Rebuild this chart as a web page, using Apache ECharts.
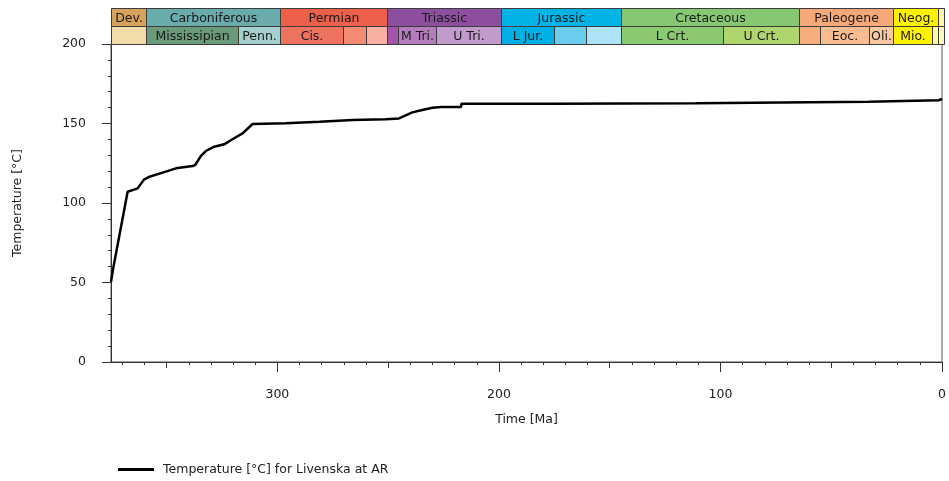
<!DOCTYPE html>
<html>
<head>
<meta charset="utf-8">
<script src="https://cdn.jsdelivr.net/npm/echarts@6/dist/echarts.min.js"></script>
<style>
  html, body { margin: 0; padding: 0; background: #fff; }
  #chart { width: 949px; height: 481px; }
</style>
</head>
<body>
<div id="chart"></div>
<script>
// burial temperature history
const ageMa = [375.1, 374.1, 367.6, 363.1, 360.1, 357.8, 351.8, 345.8, 338.3, 337.1, 334.5, 332.3,
  328.5, 324.0, 320.3, 315.7, 311.2, 296.2, 295.6, 281.1, 280.2, 266.1, 251.1, 245.1, 239.1,
  234.6, 230.0, 226.1, 217.1, 216.9, 175.1, 174.9, 111.1, 110.9, 33.1, 32.8, 1.5, 0];
const tempC = [50.5, 58.9, 107.1, 109.2, 114.9, 116.5, 119.1, 121.8, 123.3, 123.9, 129.6, 132.7,
  135.4, 136.9, 140.1, 143.8, 149.7, 150.1, 150.6, 151.1, 151.7, 152.2, 152.6, 153.2, 157.0,
  158.5, 159.9, 160.4, 160.4, 162.4, 162.4, 162.8, 162.8, 163.7, 163.7, 164.6, 164.6, 165.4];

const seriesName = 'Temperature [°C] for Livenska at AR';
const xMax = 375.1;

// geologic time scale (ages in Ma)
const periodNames = ['Dev.', 'Carboniferous', 'Permian', 'Triassic', 'Jurassic', 'Cretaceous', 'Paleogene', 'Neog.', ''];
const periodBounds = [375.1, 359.2, 299, 251, 199.6, 145.5, 65.5, 23.03, 2.588, 0];
const periodColors = ['#d6a25c', '#6aabab', '#ec6049', '#8e4ea0', '#00b4e6', '#86c872', '#f7a878', '#fff200', '#fff5a8'];

const epochNames = ['', 'Mississipian', 'Penn.', 'Cis.', '', '', '', 'M Tri.', 'U Tri.', 'L Jur.', '', '',
  'L Crt.', 'U Crt.', '', 'Eoc.', 'Oli.', 'Mio.', '', ''];
const epochBounds = [375.1, 359.2, 318.1, 299, 270.6, 260.4, 251, 245.9, 228.7, 199.6, 175.6, 161.2,
  145.5, 99.6, 65.5, 55.8, 33.9, 23.03, 5.332, 2.588, 0];
const epochColors = ['#f2dca8', '#6b9a7a', '#a6cfcf', '#ee7260', '#f48a74', '#f9b0a2', '#a155aa', '#b47cbc',
  '#c29bcc', '#00b0e4', '#6acdee', '#ade2f8', '#8ac970', '#afd66e', '#f7ad7c', '#f9bc90', '#fac9a2',
  '#fff200', '#fff6a0', '#fff8c0'];

const axisColor = '#333';
const font = 'DejaVu Sans';

const bandData = [];
periodNames.forEach((n, i) => {
  bandData.push({ value: [periodBounds[i], periodBounds[i + 1], 1], name: n, itemStyle: { color: periodColors[i] } });
});
epochNames.forEach((n, i) => {
  bandData.push({ value: [epochBounds[i], epochBounds[i + 1], 0], name: n, itemStyle: { color: epochColors[i] } });
});

function renderCell(params, api) {
  const row = api.value(2);
  const p0 = api.coord([api.value(0), row + 1]);
  const p1 = api.coord([api.value(1), row]);
  const x = Math.round(Math.min(p0[0], p1[0])) + 0.5;
  const x2 = Math.round(Math.max(p0[0], p1[0])) + 0.5;
  const y = Math.round(Math.min(p0[1], p1[1])) + 0.5;
  const y2 = Math.round(Math.max(p0[1], p1[1])) + 0.5;
  const name = bandData[params.dataIndex].name;
  return {
    type: 'group',
    children: [
      { type: 'rect', shape: { x: x, y: y, width: x2 - x, height: y2 - y },
        style: { fill: api.visual('color'), stroke: '#3c3c3c', lineWidth: 1 } },
      { type: 'text', style: { text: name, x: (x + x2) / 2, y: (y + y2) / 2 + 1, align: 'center',
        verticalAlign: 'middle', font: '12.5px "' + font + '"', fill: '#1a1a1a' } }
    ]
  };
}

const minorX = [];
for (let v = 10; v < xMax; v += 10) if (v % 50 !== 0) minorX.push(v);
const midX = [50, 150, 250, 350];
const majorX = [0, 100, 200, 300];

const chart = echarts.init(document.getElementById('chart'));
const labelStyle = { color: '#222', fontFamily: font, fontSize: 12.5 };

function tickAxis(values, len) {
  return {
    type: 'value', gridIndex: 0, position: 'bottom', min: 0, max: xMax, inverse: true,
    axisLine: { show: false, onZero: false },
    axisTick: { show: true, customValues: values, length: len, lineStyle: { color: axisColor } },
    axisLabel: { show: false }, splitLine: { show: false }
  };
}

chart.setOption({
  animation: false,
  backgroundColor: '#fff',
  grid: [
    { left: 111, right: 5, top: 44, bottom: 119, show: true, borderColor: '#555', borderWidth: 1,
      backgroundColor: 'transparent' },
    { left: 111, right: 5, top: 8, height: 36 }
  ],
  legend: {
    data: [seriesName], left: 113, top: 458, icon: 'rect', itemWidth: 36, itemHeight: 3,
    textStyle: Object.assign({ padding: [0, 0, 0, 4] }, labelStyle)
  },
  xAxis: [
    {
      type: 'value', gridIndex: 0, position: 'bottom', min: 0, max: xMax, inverse: true,
      axisLine: { onZero: false, lineStyle: { color: axisColor } },
      axisTick: { customValues: minorX, length: 3, lineStyle: { color: axisColor } },
      axisLabel: Object.assign({ customValues: majorX, margin: 26 }, labelStyle),
      splitLine: { show: false },
      name: 'Time [Ma]', nameLocation: 'middle', nameGap: 51, nameTextStyle: labelStyle
    },
    tickAxis(midX, 6),
    tickAxis(majorX, 10),
    {
      type: 'value', gridIndex: 1, min: 0, max: xMax, inverse: true, show: false
    }
  ],
  yAxis: [
    {
      type: 'value', gridIndex: 0, position: 'left', min: 0, max: 200, interval: 50,
      axisLine: { show: true, onZero: false, lineStyle: { color: axisColor } },
      axisTick: { show: true, length: 9, lineStyle: { color: axisColor } },
      minorTick: { show: true, splitNumber: 5, length: 3, lineStyle: { color: axisColor } },
      axisLabel: Object.assign({ margin: 25 }, labelStyle),
      splitLine: { show: false },
      name: 'Temperature [°C]', nameLocation: 'middle', nameGap: 87, nameTextStyle: labelStyle
    },
    {
      type: 'value', gridIndex: 1, min: 0, max: 2, show: false
    }
  ],
  series: [
    {
      name: seriesName, type: 'line', xAxisIndex: 0, yAxisIndex: 0,
      data: ageMa.map((a, i) => [a, tempC[i]]),
      showSymbol: false, lineStyle: { color: '#000', width: 2.5 }, itemStyle: { color: '#000' }
    },
    {
      type: 'custom', xAxisIndex: 3, yAxisIndex: 1,
      renderItem: renderCell, data: bandData, silent: true
    }
  ]
});
</script>
</body>
</html>
